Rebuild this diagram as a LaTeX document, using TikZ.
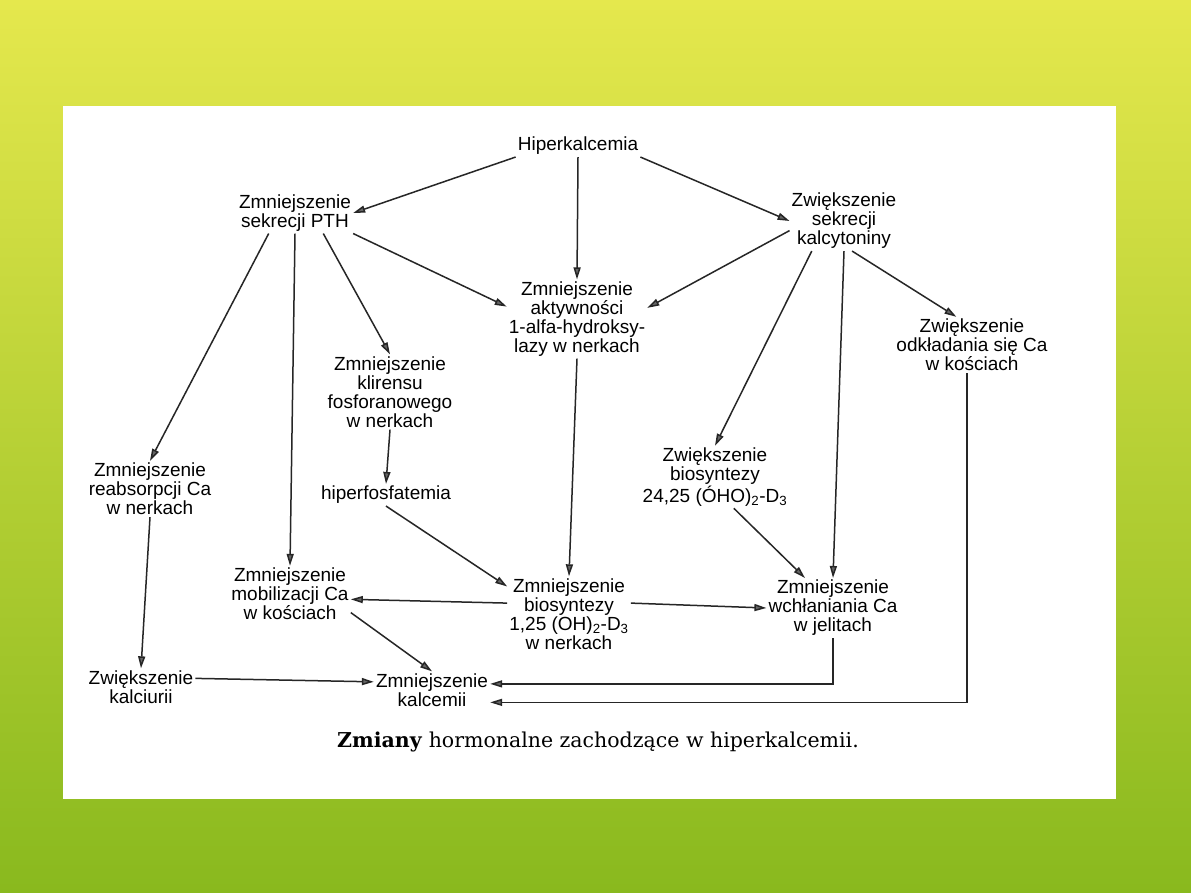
\documentclass[tikz,border=0pt]{standalone}
\usepackage{fontspec}
\setmainfont{Liberation Sans}
\newfontfamily\capfont{DejaVu Serif}
\usetikzlibrary{arrows.meta}
\definecolor{bgtop}{RGB}{229,232,77}
\definecolor{bgbot}{RGB}{137,185,30}

\begin{document}
\begin{tikzpicture}[x=1pt,y=-1pt,
    txt/.style={align=center,inner sep=2pt,font=\fontsize{19}{19}\selectfont},
    arr/.style={line width=1.5pt,draw=black!85,-{Triangle[length=12pt,width=7pt,fill=black!60]}}]
    \useasboundingbox (0,0) rectangle (1191,893);

    % Slide background and scanned page
    \shade[top color=bgtop,bottom color=bgbot] (0,0) rectangle (1191,893);
    \fill[white] (63,106) rectangle (1116,799);

    % Top level
    \node[txt] (hiper) at (578,146) {Hiperkalcemia};
    \node[txt] (pth) at (295,213) {Zmniejszenie\\sekrecji PTH};
    \node[txt] (kalc) at (844,221) {Zwiększenie\\sekrecji\\kalcytoniny};

    % Middle level
    \node[txt] (aktyw) at (577,319) {Zmniejszenie\\aktywności\\1-alfa-hydroksy-\\lazy w nerkach};
    \node[txt] (odkl) at (972,345) {Zwiększenie\\odkładania się Ca\\w kościach};
    \node[txt] (klir) at (390,392) {Zmniejszenie\\klirensu\\fosforanowego\\w nerkach};
    \node[txt] (hfos) at (386,495) {hiperfosfatemia};
    \node[txt] (reab) at (150,489) {Zmniejszenie\\reabsorpcji Ca\\w nerkach};
    \node[txt] (bios24) at (715,477) {Zwiększenie\\biosyntezy\\24,25 (ÓHO)\textsubscript{2}-D\textsubscript{3}};

    % Lower level
    \node[txt] (mobil) at (290,594) {Zmniejszenie\\mobilizacji Ca\\w kościach};
    \node[txt] (bios) at (569,614) {Zmniejszenie\\biosyntezy\\1,25 (OH)\textsubscript{2}-D\textsubscript{3}\\w nerkach};
    \node[txt] (wchl) at (833,608) {Zmniejszenie\\wchłaniania Ca\\w jelitach};
    \node[txt] (kalciu) at (141,687) {Zwiększenie\\kalciurii};
    \node[txt] (kalcem) at (432,690) {Zmniejszenie\\kalcemii};

    % Caption
    \node[font=\capfont\fontsize{20.5}{22}\selectfont] (podpis) at (598,742) {\textbf{Zmiany} hormonalne zachodzące w hiperkalcemii.};

    % Arrows from the top
    \draw[arr] (hiper.south west) -- (pth.east);
    \draw[arr] (hiper.south) -- (aktyw.north);
    \draw[arr] (hiper.south east) -- (kalc.west);

    % PTH branch
    \draw[arr] (pth.-142) -- (reab.north);
    \draw[arr] (pth.south) -- (mobil.north);
    \draw[arr] (pth.-36) -- (klir.north);
    \draw[arr] (pth.south east) -- (aktyw.170);

    % Calcitonin branch
    \draw[arr] (kalc.190) -- (aktyw.9);
    \draw[arr] (kalc.-137) -- (bios24.north);
    \draw[arr] (kalc.south) -- (wchl.north);
    \draw[arr] (kalc.-75) -- (odkl.119);

    % Further effects
    \draw[arr] (aktyw.south) -- (bios.north);
    \draw[arr] (klir.south) -- (hfos.north);
    \draw[arr] (hfos.south) -- (bios.156);
    \draw[arr] (bios.170) -- (mobil.-5);
    \draw[arr] (bios.10) -- (wchl.west);
    \draw[arr] (bios24.-59) -- (wchl.133);
    \draw[arr] (reab.south) -- (kalciu.north);

    % Into kalcemia
    \draw[arr] (mobil.-17) -- (kalcem.north);
    \draw[arr] (kalciu.9) -- (kalcem.172);
    \draw[arr] (wchl.south) |- (kalcem.6);
    \draw[arr] (odkl.-100) |- (kalcem.-12);
\end{tikzpicture}
\end{document}
